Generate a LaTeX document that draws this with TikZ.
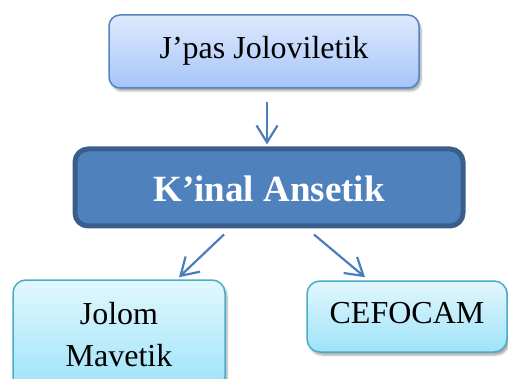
\documentclass[tikz,border=0pt]{standalone}
\usepackage{fontspec}
\setmainfont{Liberation Serif}
\usetikzlibrary{arrows.meta,shadows.blur}
\definecolor{topA}{RGB}{222,234,253}
\definecolor{topB}{RGB}{166,196,249}
\definecolor{topEdge}{RGB}{84,132,192}
\definecolor{midFill}{RGB}{79,129,189}
\definecolor{midEdge}{RGB}{58,94,140}
\definecolor{botA}{RGB}{226,247,253}
\definecolor{botB}{RGB}{158,227,249}
\definecolor{botEdge}{RGB}{75,172,198}
\definecolor{arrowCol}{RGB}{74,126,187}
\begin{document}
\begin{tikzpicture}[x=1pt,y=-1pt,
  softshadow/.style={blur shadow={shadow xshift=2pt,shadow yshift=-3pt,shadow opacity=35,shadow blur steps=6}},
  topbox/.style={draw=topEdge,line width=1.5pt,rounded corners=11pt,top color=topA,bottom color=topB,
    minimum width=310pt,minimum height=73pt,font=\fontsize{32}{42}\selectfont,softshadow,
    text height=22pt,text depth=7pt,inner sep=0pt},
  midbox/.style={draw=midEdge,line width=5pt,rounded corners=13pt,fill=midFill,text=white,
    minimum width=388pt,minimum height=77pt,font=\fontsize{37}{44}\selectfont\bfseries,
    text height=29pt,text depth=0pt,inner sep=0pt},
  botbox/.style={draw=botEdge,line width=1.5pt,rounded corners=13pt,top color=botA,bottom color=botB,
    font=\fontsize{32}{42}\selectfont,softshadow,inner sep=0pt,align=center},
  arr/.style={draw=arrowCol,line width=2.2pt,-{Straight Barb[length=17pt,width=21pt,line width=2.2pt]}}
]
\useasboundingbox (0,0) rectangle (508,379);
\node[topbox] (jp) at (264,51.5) {J’pas Joloviletik};
\node[midbox] (ka) at (269,187.5) {K’inal Ansetik};
\node[botbox,minimum width=212pt,minimum height=110pt] (jm) at (119,335) {Jolom\\Mavetik};
\node[botbox,minimum width=200pt,minimum height=71pt,text height=22pt,text depth=9pt] (ce) at (407,316.5) {CEFOCAM};
\draw[arr] ([xshift=3pt,yshift=-13pt]jp.south) -- ([xshift=-2pt,yshift=2pt]ka.north);
\draw[arr] ([xshift=-45pt,yshift=-6pt]ka.south) -- ([xshift=60pt,yshift=2pt]jm.north);
\draw[arr] ([xshift=45pt,yshift=-6pt]ka.south) -- ([xshift=-42pt,yshift=3pt]ce.north);
\end{tikzpicture}
\end{document}
